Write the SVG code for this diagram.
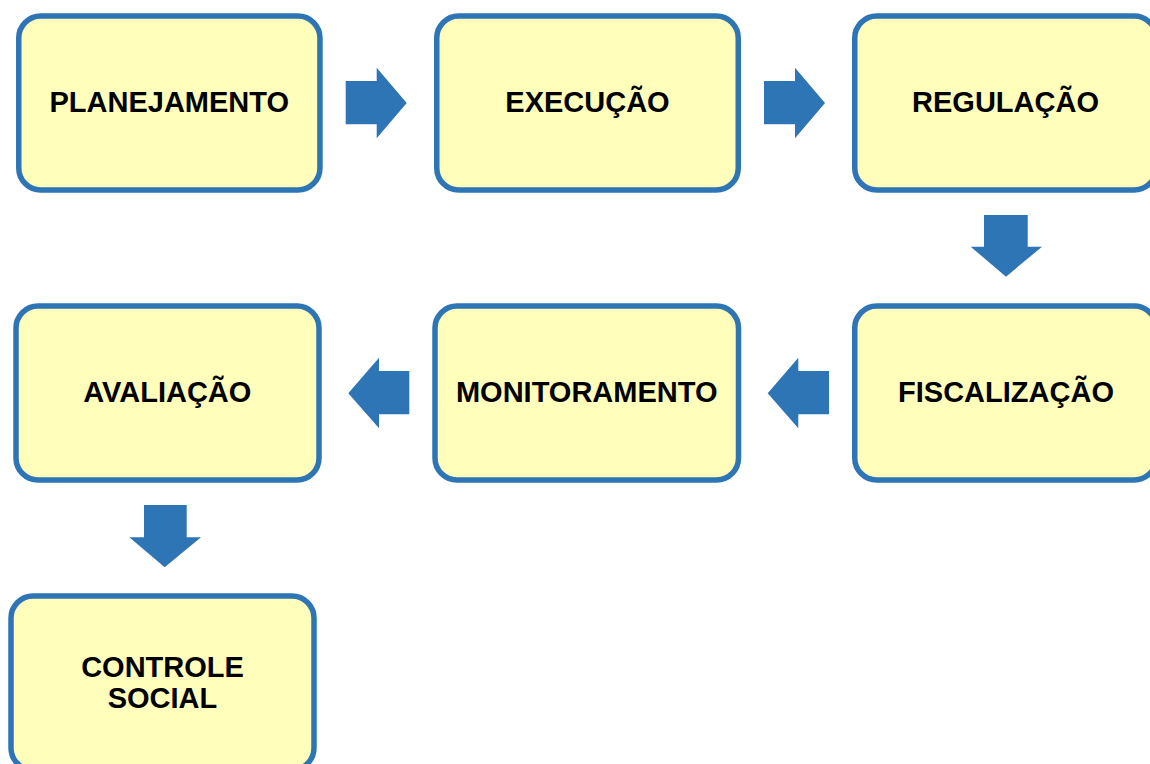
<svg xmlns="http://www.w3.org/2000/svg" width="1150" height="764" viewBox="0 0 1150 764">
<style>
.box{fill:#FFFFBB;stroke:#2E75B6;stroke-width:5.5}
.lbl{font-family:"Liberation Sans",Arial,sans-serif;font-weight:bold;font-size:29px;fill:#000;text-anchor:middle}
.arr{fill:#2E75B6}
</style>
<rect width="1150" height="764" fill="#fff"/>
<g id="connectors">
<polygon class="arr" points="345.7,81 376.7,81 376.7,67.7 406.7,103 376.7,138.3 376.7,124.3 345.7,124.3"/>
<polygon class="arr" points="764,81 795,81 795,67.7 825,103 795,138.3 795,124.3 764,124.3"/>
<polygon class="arr" points="984,215 1027.7,215 1027.7,246.7 1042,246.7 1006,276.7 970.7,246.7 984,246.7"/>
<polygon class="arr" points="829,371 798.3,371 798.3,357.7 767.7,393.3 798.3,428.3 798.3,414.3 829,414.3"/>
<polygon class="arr" points="409.3,371 379,371 379,357.7 348.3,393.3 379,428.3 379,414.3 409.3,414.3"/>
<polygon class="arr" points="144,505 186.7,505 186.7,537.3 201,537.3 164.7,567.3 129.3,537.3 144,537.3"/>
</g>
<g id="planejamento"><rect class="box" x="18.75" y="16" width="301.2" height="174" rx="22"/><text class="lbl" x="169.3" y="112.3">PLANEJAMENTO</text></g>
<g id="execucao"><rect class="box" x="436.75" y="16" width="301.5" height="174" rx="22"/><text class="lbl" x="587.5" y="112.3">EXECUÇÃO</text></g>
<g id="regulacao"><rect class="box" x="854.75" y="16" width="301.5" height="174" rx="22"/><text class="lbl" x="1005.5" y="112.3">REGULAÇÃO</text></g>
<g id="fiscalizacao"><rect class="box" x="854.75" y="306" width="301.5" height="174" rx="22"/><text class="lbl" x="1006" y="402.3">FISCALIZAÇÃO</text></g>
<g id="monitoramento"><rect class="box" x="435" y="306" width="303.5" height="174" rx="22"/><text class="lbl" x="586.7" y="402.3">MONITORAMENTO</text></g>
<g id="avaliacao"><rect class="box" x="16" y="306" width="303" height="174" rx="22"/><text class="lbl" x="167.3" y="402.3">AVALIAÇÃO</text></g>
<g id="controle-social"><rect class="box" x="11" y="596" width="303" height="174" rx="22"/><text class="lbl" x="162.5" y="676.7">CONTROLE</text><text class="lbl" x="162.5" y="707.7">SOCIAL</text></g>
</svg>
